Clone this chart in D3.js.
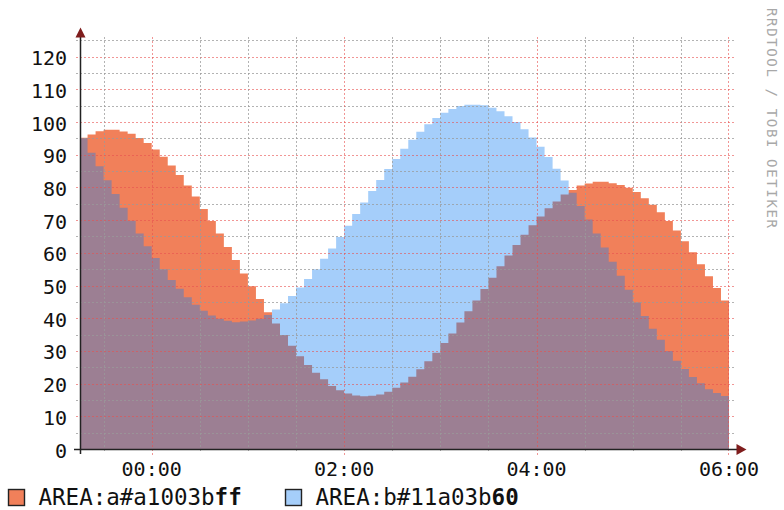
<!DOCTYPE html>
<html>
<head>
<meta charset="utf-8">
<script src="https://cdn.jsdelivr.net/npm/d3@7"></script>
<style>
  html, body { margin: 0; padding: 0; background: #ffffff; }
  svg { display: block; }
  text { font-family: "DejaVu Sans Mono", "Liberation Mono", monospace; }
</style>
</head>
<body>
<div id="chart"></div>
<script>
// Sample series, one value per 5-minute step starting at 23:15 (-45 min)
const stepMinutes = 5;
const firstSampleMinute = -45;

const seriesA = [
  95.2, 96.2, 97.2, 97.6, 97.6, 97.1, 96.4, 95.1, 93.6, 91.6,
  89.4, 86.7, 83.8, 80.6, 77.2, 73.4, 69.7, 65.9, 61.8, 57.8,
  53.7, 49.8, 45.9, 41.8, 38.4, 34.9, 31.6, 28.4, 25.7, 23.3,
  21.3, 19.3, 18.0, 17.0, 16.4, 16.1, 16.3, 16.7, 17.5, 18.7,
  20.3, 22.1, 24.4, 26.8, 29.4, 32.4, 35.3, 38.7, 42.1, 45.4,
  48.9, 52.4, 55.9, 59.2, 62.4, 65.5, 68.4, 71.1, 73.6, 75.7,
  77.8, 79.2, 80.6, 81.2, 81.7, 81.7, 81.3, 80.7, 79.9, 78.6,
  76.7, 74.7, 72.4, 69.7, 66.8, 63.5, 60.2, 56.5, 52.8, 49.2,
  45.4
];

const seriesB = [
  95.0, 90.6, 86.5, 82.2, 78.0, 73.8, 69.8, 65.9, 62.0, 58.4,
  55.0, 51.7, 49.0, 46.4, 44.1, 42.3, 40.8, 39.8, 39.2, 38.8,
  39.0, 39.3, 39.8, 41.0, 42.7, 44.6, 46.8, 49.4, 52.0, 55.0,
  58.2, 61.3, 64.8, 68.3, 71.9, 75.4, 78.9, 82.3, 85.6, 88.7,
  91.8, 94.6, 97.0, 99.3, 101.2, 102.8, 104.0, 104.9, 105.3, 105.3,
  105.1, 104.4, 103.3, 101.8, 100.0, 97.8, 95.3, 92.4, 89.3, 85.7,
  82.1, 78.4, 74.3, 70.2, 65.9, 61.6, 57.3, 53.0, 48.7, 44.8,
  40.7, 36.8, 33.4, 30.0, 27.0, 24.5, 22.0, 20.1, 18.3, 17.1,
  16.2
];

// Axis ticks
const yLabelValues = [0, 10, 20, 30, 40, 50, 60, 70, 80, 90, 100, 110, 120];
const yMinorValues = [5, 15, 25, 35, 45, 55, 65, 75, 85, 95, 105, 115, 125];
const xLabelMinutes = [0, 120, 240, 360];
const xLabels = ["00:00", "02:00", "04:00", "06:00"];
const xMinorMinutes = [-30, 30, 60, 90, 150, 180, 210, 270, 300, 330];

// Legend
const legendNames = ["AREA:a#a1003b", "AREA:b#11a03b"];
const legendSuffix = ["ff", "60"];
const watermark = "RRDTOOL / TOBI OETIKER";

const W = 784, H = 510;
const colorA = "#f1805a";
const colorB = "#107df2";
const opacityB = 0.376;

const svg = d3.select("#chart").append("svg")
  .attr("width", W).attr("height", H);

const x = d3.scaleLinear().domain([-44.4, 360]).range([80.5, 729]);
const y = d3.scaleLinear().domain([0, 126]).range([449, 37]);

function stepPoints(values) {
  const pts = values.map((v, i) => ({ t: firstSampleMinute + i * stepMinutes, v }));
  pts.push({ t: firstSampleMinute + values.length * stepMinutes, v: values[values.length - 1] });
  return pts;
}

svg.append("defs").append("clipPath").attr("id", "plotClip")
  .append("rect")
  .attr("x", x.range()[0]).attr("y", y.range()[1])
  .attr("width", x.range()[1] - x.range()[0])
  .attr("height", y.range()[0] - y.range()[1]);

const area = d3.area()
  .curve(d3.curveStepAfter)
  .x(d => x(d.t))
  .y0(y(0))
  .y1(d => y(d.v));

const plot = svg.append("g").attr("clip-path", "url(#plotClip)");
plot.append("path").datum(stepPoints(seriesA))
  .attr("d", area).attr("fill", colorA);
plot.append("path").datum(stepPoints(seriesB))
  .attr("d", area).attr("fill", colorB).attr("fill-opacity", opacityB);

// Grid
const crisp = v => Math.round(v) + 0.5;
const grid = svg.append("g");
const minorStyle = { stroke: "#9a9a9a", op: 0.75 };
const majorStyle = { stroke: "#e8504f", op: 0.6 };

grid.selectAll("line.hmin").data(yMinorValues).join("line")
  .attr("x1", 76).attr("x2", 735)
  .attr("y1", d => crisp(y(d))).attr("y2", d => crisp(y(d)))
  .attr("stroke", minorStyle.stroke).attr("stroke-opacity", minorStyle.op)
  .attr("stroke-dasharray", "2,2");
grid.selectAll("line.hmaj").data(yLabelValues.filter(v => v > 0)).join("line")
  .attr("x1", 76).attr("x2", 735)
  .attr("y1", d => crisp(y(d))).attr("y2", d => crisp(y(d)))
  .attr("stroke", majorStyle.stroke).attr("stroke-opacity", majorStyle.op)
  .attr("stroke-dasharray", "2,2");
grid.selectAll("line.vmin").data(xMinorMinutes).join("line")
  .attr("y1", y.range()[1]).attr("y2", 453)
  .attr("x1", d => crisp(x(d))).attr("x2", d => crisp(x(d)))
  .attr("stroke", minorStyle.stroke).attr("stroke-opacity", minorStyle.op)
  .attr("stroke-dasharray", "2,2");
grid.selectAll("line.vmaj").data(xLabelMinutes).join("line")
  .attr("y1", y.range()[1]).attr("y2", 455)
  .attr("x1", d => crisp(x(d)) - (d === 360 ? 1 : 0)).attr("x2", d => crisp(x(d)) - (d === 360 ? 1 : 0))
  .attr("stroke", majorStyle.stroke).attr("stroke-opacity", majorStyle.op)
  .attr("stroke-dasharray", "2,2");

// Axes
const axisColor = "#222222";
const arrowColor = "#7f1d1d";
svg.append("line")
  .attr("x1", 80.5).attr("x2", 80.5).attr("y1", 454).attr("y2", 33)
  .attr("stroke", axisColor).attr("stroke-width", 1.5);
svg.append("line")
  .attr("x1", 74).attr("x2", 740).attr("y1", 449.5).attr("y2", 449.5)
  .attr("stroke", axisColor).attr("stroke-width", 1.5);
svg.append("path")
  .attr("d", "M75.5,37.5 L85.5,37.5 L80.5,27.5 Z").attr("fill", arrowColor);
svg.append("path")
  .attr("d", "M736.5,444 L736.5,455 L746.5,449.5 Z").attr("fill", arrowColor);

// Axis labels
svg.append("g").selectAll("text").data(yLabelValues).join("text")
  .attr("x", 67).attr("y", d => y(d) + 8.5)
  .attr("text-anchor", "end")
  .attr("font-size", 20).attr("fill", "#111")
  .text(d => d);
svg.append("g").selectAll("text").data(xLabelMinutes).join("text")
  .attr("x", d => x(d)).attr("y", 476)
  .attr("text-anchor", "middle")
  .attr("font-size", 20).attr("fill", "#111")
  .text((d, i) => xLabels[i]);

// Legend
const legendBoxX = [8.5, 285.5];
const legendFill = [colorA, "#a5cefa"];
const lg = svg.append("g");
legendNames.forEach((name, i) => {
  lg.append("rect")
    .attr("x", legendBoxX[i]).attr("y", 489.5)
    .attr("width", 16).attr("height", 16)
    .attr("fill", legendFill[i]).attr("stroke", "#222").attr("stroke-width", 1.4);
  const t = lg.append("text")
    .attr("x", legendBoxX[i] + 30).attr("y", 504.5)
    .attr("font-size", 22.5).attr("fill", "#111");
  t.append("tspan").text(name);
  t.append("tspan").attr("font-weight", "bold").text(legendSuffix[i]);
});

// Vertical watermark on the right
svg.append("text")
  .attr("transform", "translate(767,8) rotate(90)")
  .attr("font-size", 14).attr("fill", "#a8a8a8")
  .attr("textLength", 220).attr("lengthAdjust", "spacing")
  .text(watermark);
</script>
</body>
</html>
